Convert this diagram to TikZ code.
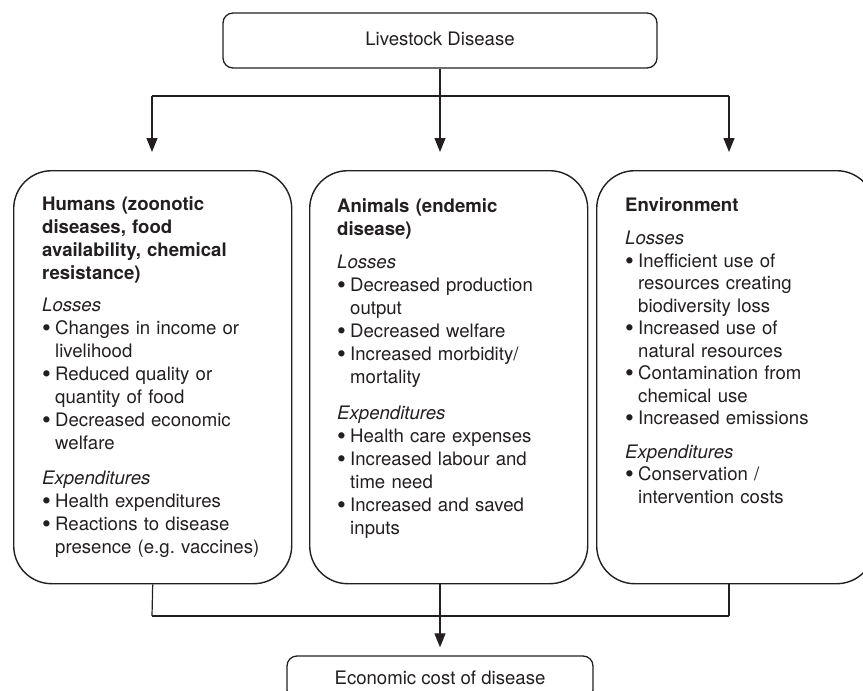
\documentclass[tikz,border=0pt]{standalone}
\usepackage{fontspec}
\setmainfont{TeX Gyre Heros}
\usepackage{xcolor}
\usetikzlibrary{positioning,arrows.meta}
\definecolor{linegray}{RGB}{35,31,32}
\definecolor{textgray}{RGB}{35,31,32}
\newcommand{\bul}{\makebox[13pt][l]{\raisebox{-2.4pt}{\scalebox{1.35}{\textbullet}}}}
\newcommand{\ind}{\hspace*{13pt}}

\begin{document}
\begin{tikzpicture}[x=1pt, y=-1pt,
        font=\fontsize{18.6}{23}\selectfont, text=textgray,
        topbox/.style={rectangle, rounded corners=10pt, draw=linegray, line width=1.3pt,
                       minimum width=434pt, minimum height=55pt},
        bigbox/.style={rectangle, rounded corners=38pt, draw=linegray, line width=1.4pt,
                       minimum width=278pt, minimum height=413pt, anchor=north west},
        boxtext/.style={anchor=north west, inner sep=0pt, align=left, text width=245pt},
        line/.style={draw=linegray, line width=1.2pt},
        arrow/.style={line, -{Triangle[width=11pt,length=14pt]}}
    ]
        \useasboundingbox (0,0) rectangle (863,691);

        % top and bottom boxes
        \node[topbox] (disease) at (440,40.5) {\raisebox{4pt}{Livestock Disease}};
        \node[topbox, minimum width=306pt, minimum height=44pt] (cost) at (440,678) {Economic cost of disease};

        % three impact boxes
        \node[bigbox] (humans) at (13,170) {};
        \node[bigbox] (animals) at (309,170) {};
        \node[bigbox] (environment) at (596,170) {};

        \node[boxtext] (humanstext) at (42,196) {%
            \textbf{Humans (zoonotic}\\ \textbf{diseases, food}\\ \textbf{availability, chemical}\\ \textbf{resistance)}\\[9pt]
            \textit{Losses}\\
            \bul Changes in income or\\ \ind livelihood\\
            \bul Reduced quality or\\ \ind quantity of food\\
            \bul Decreased economic\\ \ind welfare\\[12pt]
            \textit{Expenditures}\\
            \bul Health expenditures\\
            \bul Reactions to disease\\ \ind presence (e.g.\ vaccines)};
        \node[boxtext] (animalstext) at (337,198) {%
            \textbf{Animals (endemic}\\ \textbf{disease)}\\[10pt]
            \textit{Losses}\\
            \bul Decreased production\\ \ind output\\
            \bul Decreased welfare\\
            \bul Increased morbidity/\\ \ind mortality\\[13pt]
            \textit{Expenditures}\\
            \bul Health care expenses\\
            \bul Increased labour and\\ \ind time need\\
            \bul Increased and saved\\ \ind inputs};
        \node[boxtext, font=\fontsize{18.6}{22.5}\selectfont] (environmenttext) at (625,197) {%
            \textbf{Environment}\\[11pt]
            \textit{Losses}\\
            \bul Inefficient use of\\ \ind resources creating\\ \ind biodiversity loss\\
            \bul Increased use of\\ \ind natural resources\\
            \bul Contamination from\\ \ind chemical use\\
            \bul Increased emissions\\[11pt]
            \textit{Expenditures}\\
            \bul Conservation /\\ \ind intervention costs};

        % split from the top box
        \coordinate (hsplit) at (152,96);
        \coordinate (asplit) at (440,96);
        \coordinate (esplit) at (729,96);
        \draw[line] (disease) -- (asplit);
        \draw[line] (hsplit) -- (esplit);
        \foreach \c in {hsplit,asplit,esplit}
            \draw[arrow, shorten >=18pt] (\c) -- (\c |- humans.north);

        % join into the cost box
        \coordinate (hjoin) at (152,616);
        \coordinate (ajoin) at (440,616);
        \coordinate (ejoin) at (729,616);
        \draw[line] (humans.south) -- (hjoin);
        \draw[line] (ajoin |- animals.south) -- (ajoin);
        \draw[line] (ejoin |- environment.south) -- (ejoin);
        \draw[line] (hjoin) -- (ejoin);
        \draw[arrow, shorten >=8pt] (ajoin) -- (ajoin |- cost.north);
    \end{tikzpicture}
\end{document}
